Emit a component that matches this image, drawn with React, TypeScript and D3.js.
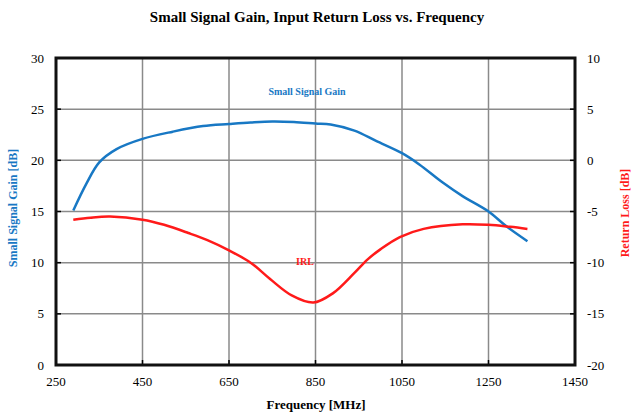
import React from "react";
import * as d3 from "d3";

const gainFreq = [290, 320, 350, 390, 450, 520, 590, 650, 700, 750, 800, 850, 885, 940, 990, 1050, 1090, 1145, 1190, 1250, 1290, 1340];
const gainValues = [15.1, 17.7, 19.8, 21.1, 22.1, 22.8, 23.35, 23.55, 23.7, 23.8, 23.75, 23.6, 23.5, 22.9, 21.9, 20.7, 19.6, 17.8, 16.5, 15.0, 13.6, 12.1];

const irlFreq = [290, 330, 375, 450, 500, 556, 600, 650, 700, 745, 795, 845, 890, 940, 970, 1000, 1045, 1100, 1190, 1250, 1300, 1340];
const irlValues = [-5.8, -5.6, -5.5, -5.8, -6.3, -7.1, -7.8, -8.8, -10.0, -11.6, -13.2, -13.9, -13.0, -11.0, -9.7, -8.7, -7.5, -6.7, -6.25, -6.3, -6.5, -6.7];

const xTicks = [250, 450, 650, 850, 1050, 1250, 1450];
const leftTicks = [0, 5, 10, 15, 20, 25, 30];
const rightTicks = [-20, -15, -10, -5, 0, 5, 10];

const W = 632, H = 414;
const L = 56, R = 575, T = 58, B = 365;
const BLUE = "#1878c4";
const RED = "#ff1a1a";
const FONT = "'Liberation Serif', 'Times New Roman', serif";

export default function App() {
  const x = d3.scaleLinear().domain([250, 1450]).range([L, R]);
  const yL = d3.scaleLinear().domain([0, 30]).range([B, T]);
  const yR = d3.scaleLinear().domain([-20, 10]).range([B, T]);

  const gainLine = d3.line<number>().x((_, i) => x(gainFreq[i])).y((d) => yL(d)).curve(d3.curveCatmullRom.alpha(0.5));
  const irlLine = d3.line<number>().x((_, i) => x(irlFreq[i])).y((d) => yR(d)).curve(d3.curveCatmullRom.alpha(0.5));

  return (
    <svg width={W} height={H} style={{ position: "absolute", left: 0, top: 0, background: "#fff" }} fontFamily={FONT}>
      <rect x={0} y={0} width={W} height={H} fill="#fff" />
      <text x={317} y={22} textAnchor="middle" fontWeight="bold" fontSize={15}>
        Small Signal Gain, Input Return Loss vs. Frequency
      </text>
      {xTicks.slice(1, -1).map((t) => (
        <line key={"gx" + t} x1={x(t)} x2={x(t)} y1={T} y2={B} stroke="#8a8a8a" strokeWidth={1.5} />
      ))}
      {leftTicks.slice(1, -1).map((t) => (
        <line key={"gy" + t} x1={L} x2={R} y1={yL(t)} y2={yL(t)} stroke="#8a8a8a" strokeWidth={1.5} />
      ))}
      {leftTicks.slice(1, -1).map((t) => (
        <g key={"st" + t}>
          <line x1={L} x2={L + 5} y1={yL(t)} y2={yL(t)} stroke="#000" strokeWidth={1.5} />
          <line x1={R - 5} x2={R} y1={yL(t)} y2={yL(t)} stroke="#000" strokeWidth={1.5} />
        </g>
      ))}
      {xTicks.slice(1, -1).map((t) => (
        <line key={"sx" + t} x1={x(t)} x2={x(t)} y1={B - 5} y2={B} stroke="#000" strokeWidth={1.5} />
      ))}
      <path d={gainLine(gainValues) || ""} fill="none" stroke={BLUE} strokeWidth={2.5} />
      <path d={irlLine(irlValues) || ""} fill="none" stroke={RED} strokeWidth={2.5} />
      <rect x={L} y={T} width={R - L} height={B - T} fill="none" stroke="#111" strokeWidth={3} />
      {leftTicks.map((t) => (
        <text key={"lt" + t} x={44} y={yL(t) + 4.5} textAnchor="end" fontSize={13}>{t}</text>
      ))}
      {rightTicks.map((t) => (
        <text key={"rt" + t} x={587} y={yR(t) + 4.5} textAnchor="start" fontSize={13}>{t}</text>
      ))}
      {xTicks.map((t) => (
        <text key={"xt" + t} x={x(t)} y={386} textAnchor="middle" fontSize={13}>{t}</text>
      ))}
      <text x={316} y={409} textAnchor="middle" fontWeight="bold" fontSize={13}>Frequency [MHz]</text>
      <text transform={`translate(17,208) rotate(-90)`} textAnchor="middle" fontWeight="bold" fontSize={12} fill={BLUE}>
        Small Signal Gain [dB]
      </text>
      <text transform={`translate(629,213) rotate(-90)`} textAnchor="middle" fontWeight="bold" fontSize={12} fill={RED}>
        Return Loss [dB]
      </text>
      <text x={307} y={95} textAnchor="middle" fontWeight="bold" fontSize={10} fill={BLUE}>Small Signal Gain</text>
      <text x={305} y={265} textAnchor="middle" fontWeight="bold" fontSize={10} fill={RED}>IRL</text>
    </svg>
  );
}
